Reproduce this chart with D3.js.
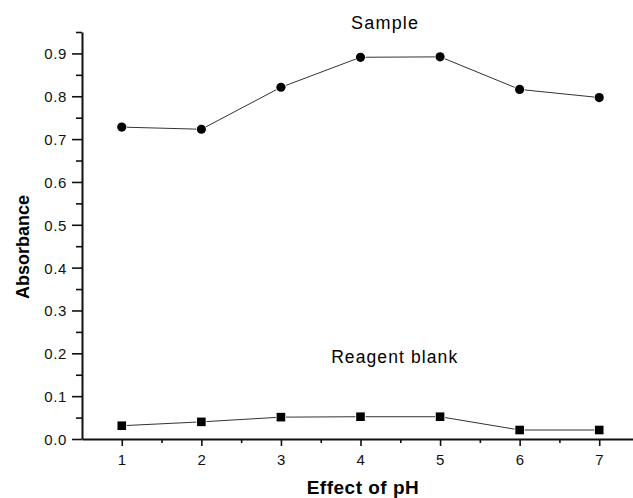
<!DOCTYPE html>
<html>
<head>
<meta charset="utf-8">
<script src="https://cdn.jsdelivr.net/npm/d3@7"></script>
<style>
  body { margin: 0; background: #fff; }
  svg { display: block; overflow: hidden; }
  .axis text { font-family: "Liberation Sans", Arial, sans-serif; font-size: 15px; fill: #111; letter-spacing: 0.6px; }
  .axis path, .axis line { stroke: #111; }
</style>
</head>
<body>
<div id="chart"></div>
<script>
// pH steps
var phValues = [1, 2, 3, 4, 5, 6, 7];
// absorbance
var sampleValues = [0.728, 0.723, 0.821, 0.891, 0.892, 0.816, 0.797];
var blankValues = [0.031, 0.040, 0.051, 0.052, 0.052, 0.021, 0.021];
var yTickValues = [0, 0.1, 0.2, 0.3, 0.4, 0.5, 0.6, 0.7, 0.8, 0.9];
var yMinorValues = [0.05, 0.15, 0.25, 0.35, 0.45, 0.55, 0.65, 0.75, 0.85, 0.95];
var xMinorValues = [1.5, 2.5, 3.5, 4.5, 5.5, 6.5];

var wwidth = 633, hheight = 498;
var margin = { left: 82, top: 32, bottom: 59 };
var width = 557;
var height = hheight - margin.top - margin.bottom;

var svg = d3.select("#chart").append("svg")
  .attr("width", wwidth)
  .attr("height", hheight);

var xScale = d3.scaleLinear().domain([0.5, 7.5]).range([margin.left, margin.left + width]);
var yScale = d3.scaleLinear().domain([0, 0.95]).range([margin.top + height, margin.top]);

// minor ticks first
svg.append("g")
  .attr("class", "axis")
  .attr("transform", "translate(" + margin.left + ",0)")
  .call(d3.axisLeft(yScale).tickValues(yMinorValues).tickSize(6).tickFormat(""))
  .call(function (g) { g.select(".domain").remove(); g.selectAll("line").attr("stroke-width", 1.6); });

svg.append("g")
  .attr("class", "axis")
  .attr("transform", "translate(0," + yScale(0) + ")")
  .call(d3.axisBottom(xScale).tickValues(xMinorValues).tickSize(4).tickFormat(""))
  .call(function (g) { g.select(".domain").remove(); g.selectAll("line").attr("stroke-width", 1.6); });

// major axes
var yAxis = d3.axisLeft(yScale).tickValues(yTickValues).tickSize(10).tickSizeOuter(0).tickPadding(5)
  .tickFormat(d3.format(".1f"));
svg.append("g")
  .attr("class", "axis")
  .attr("transform", "translate(" + margin.left + ",0)")
  .call(yAxis)
  .call(function (g) {
    g.select(".domain").attr("stroke-width", 2);
    g.selectAll("line").attr("stroke-width", 1.6);
    g.selectAll("text").attr("dy", "0.36em");
  });

var xAxis = d3.axisBottom(xScale).tickValues(phValues).tickSize(7).tickSizeOuter(0).tickPadding(8)
  .tickFormat(d3.format("d"));
svg.append("g")
  .attr("class", "axis")
  .attr("transform", "translate(0," + yScale(0) + ")")
  .call(xAxis)
  .call(function (g) {
    g.select(".domain").attr("stroke-width", 2);
    g.selectAll("line").attr("stroke-width", 1.6);
  });

// lines
var line = d3.line()
  .x(function (d) { return xScale(d[0]); })
  .y(function (d) { return yScale(d[1]); });

var sampleData = phValues.map(function (p, i) { return [p, sampleValues[i]]; });
var blankData = phValues.map(function (p, i) { return [p, blankValues[i]]; });

svg.append("path").datum(sampleData)
  .attr("d", line).attr("fill", "none").attr("stroke", "#333").attr("stroke-width", 1);
svg.append("path").datum(blankData)
  .attr("d", line).attr("fill", "none").attr("stroke", "#333").attr("stroke-width", 1);

// markers
svg.selectAll(".dot").data(sampleData).enter().append("circle")
  .attr("class", "dot")
  .attr("cx", function (d) { return xScale(d[0]); })
  .attr("cy", function (d) { return yScale(d[1]); })
  .attr("r", 4.6)
  .attr("fill", "#000")
  .attr("stroke", "#fff")
  .attr("stroke-width", 1.5)
  .attr("paint-order", "stroke");

svg.selectAll(".sq").data(blankData).enter().append("rect")
  .attr("class", "sq")
  .attr("x", function (d) { return xScale(d[0]) - 4.3; })
  .attr("y", function (d) { return yScale(d[1]) - 4.3; })
  .attr("width", 8.6)
  .attr("height", 8.6)
  .attr("fill", "#000")
  .attr("stroke", "#fff")
  .attr("stroke-width", 1.5)
  .attr("paint-order", "stroke");

// annotations
var font = "'Liberation Sans', Arial, sans-serif";
svg.append("text")
  .attr("x", xScale(4.31)).attr("y", yScale(0.958))
  .attr("text-anchor", "middle")
  .style("font-family", font).style("font-size", "18px").style("letter-spacing", "1.2px")
  .text("Sample");

svg.append("text")
  .attr("x", xScale(4.43)).attr("y", yScale(0.177))
  .attr("text-anchor", "middle")
  .style("font-family", font).style("font-size", "17.5px").style("letter-spacing", "1.1px")
  .text("Reagent blank");

svg.append("text")
  .attr("x", 363).attr("y", 494)
  .attr("text-anchor", "middle")
  .style("font-family", font).style("font-size", "19px").style("font-weight", "bold").style("letter-spacing", "0.5px")
  .text("Effect of pH");

svg.append("text")
  .attr("transform", "translate(29," + 247 + ") rotate(-90)")
  .attr("text-anchor", "middle")
  .style("font-family", font).style("font-size", "18px").style("font-weight", "bold")
  .text("Absorbance");
</script>
</body>
</html>
